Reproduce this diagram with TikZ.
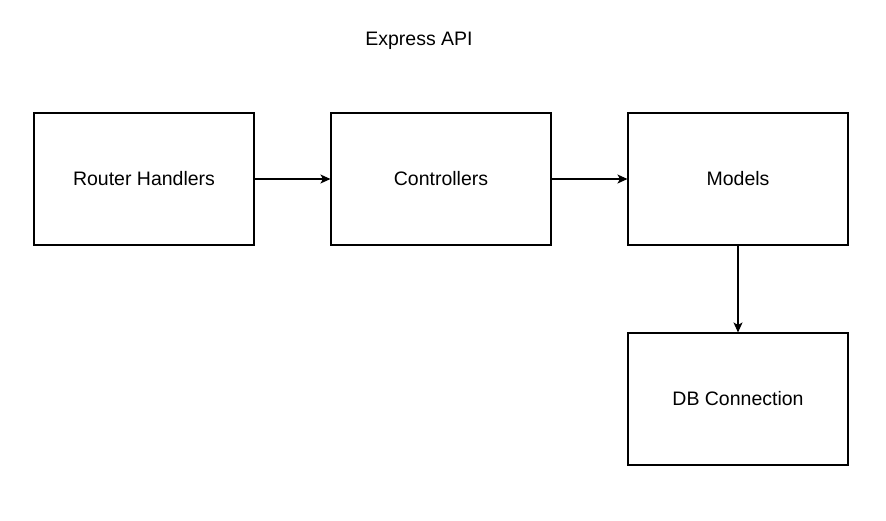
\documentclass[tikz,border=0pt]{standalone}
\usepackage{fontspec}
\setmainfont{Liberation Sans}
\usetikzlibrary{arrows.meta}
\begin{document}
\begin{tikzpicture}[x=1pt,y=-1pt,
  box/.style={draw=black,line width=1.1pt,minimum width=220pt,minimum height=132pt,inner sep=0pt,font=\fontsize{19.5}{23}\selectfont},
  conn/.style={draw=black,line width=1.1pt,-{Stealth[length=10pt,width=9pt,inset=2.5pt]}}]
\useasboundingbox (0,0) rectangle (886,520);
\node[font=\fontsize{19.5}{23}\selectfont] (title) at (419,41) {Express API};
\node[box] (router) at (144,179) {Router Handlers};
\node[box] (ctrl) at (441,179) {Controllers};
\node[box] (models) at (738,179) {Models};
\node[box] (db) at (738,399) {DB Connection};
\draw[conn] (router) -- (ctrl);
\draw[conn] (ctrl) -- (models);
\draw[conn] (models) -- (db);
\end{tikzpicture}
\end{document}
